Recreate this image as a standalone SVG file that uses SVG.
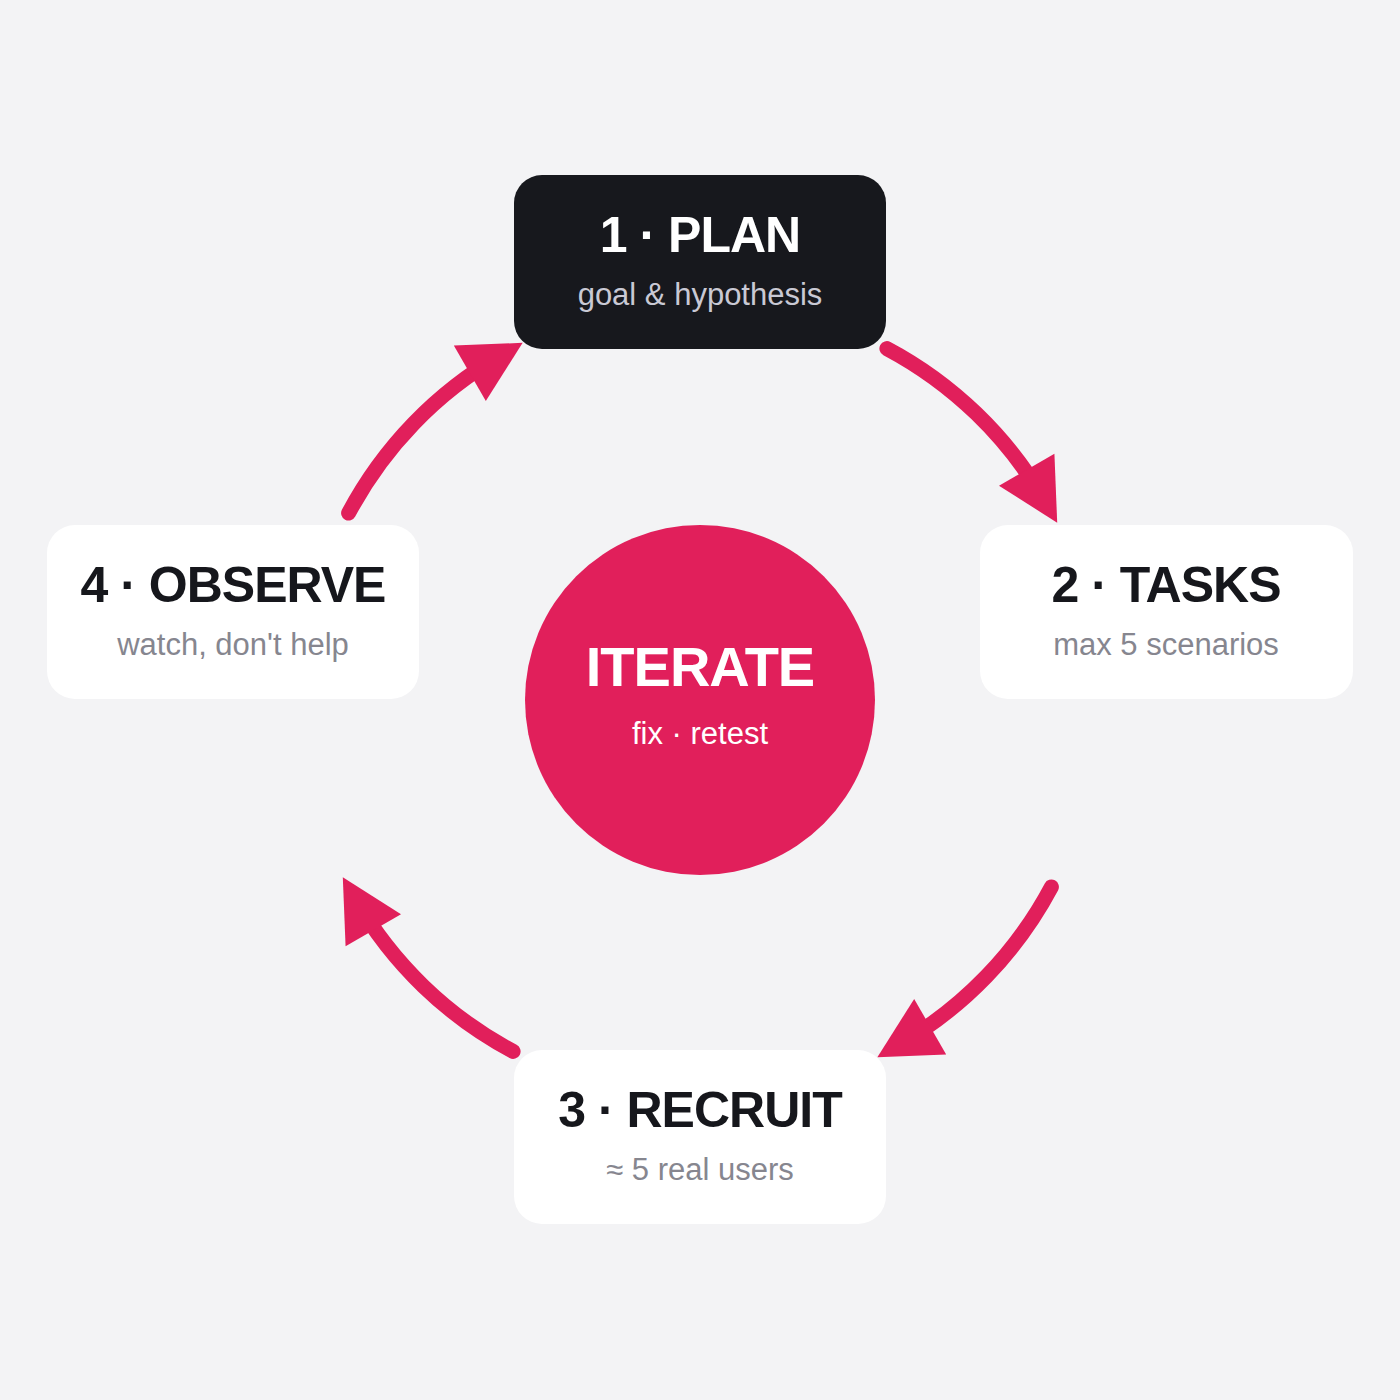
<svg xmlns="http://www.w3.org/2000/svg" width="1400" height="1400" viewBox="0 0 1400 1400">
  <style>
    .bg { fill: #F3F3F5; }
    .card { fill: #FFFFFF; }
    .card-dark { fill: #17181D; }
    .title { font-family: "Liberation Sans", Arial, sans-serif; font-weight: bold; font-size: 50px; text-anchor: middle; fill: #16171C; letter-spacing: -1px; }
    .title-light { fill: #FFFFFF; }
    .sub { font-family: "Liberation Sans", Arial, sans-serif; font-size: 31px; text-anchor: middle; fill: #86868F; }
    .sub-light { fill: #C9C9D4; }
    .conn { fill: none; stroke: #E11F5B; stroke-width: 15; stroke-linecap: round; }
    .hub { fill: #E11F5B; }
  </style>
  <defs>
    <marker id="arrow" markerUnits="userSpaceOnUse" markerWidth="61" markerHeight="64" refX="36" refY="32" orient="auto" overflow="visible">
      <path d="M0,0 L61,32 L0,64 Z" fill="#E11F5B"/>
    </marker>
  </defs>
  <rect class="bg" x="0" y="0" width="1400" height="1400"/>

  <g id="connectors">
    <path class="conn" d="M886.9,348.6 A398,398 0 0 1 1044.7,501" marker-end="url(#arrow)"/>
    <path class="conn" d="M1051.4,886.9 A398,398 0 0 1 899,1044.7" marker-end="url(#arrow)"/>
    <path class="conn" d="M513.1,1051.4 A398,398 0 0 1 355.3,899" marker-end="url(#arrow)"/>
    <path class="conn" d="M348.6,513.1 A398,398 0 0 1 501,355.3" marker-end="url(#arrow)"/>
  </g>

  <g id="iterate">
    <circle class="hub" cx="700" cy="700" r="175"/>
    <text class="title title-light" x="700" y="686" style="font-size:56px">ITERATE</text>
    <text class="sub" x="700" y="744" style="fill:#FFFFFF">fix · retest</text>
  </g>

  <g id="plan">
    <rect class="card-dark" x="514" y="175" width="372" height="174" rx="28"/>
    <text class="title title-light" x="700" y="252">1 · PLAN</text>
    <text class="sub sub-light" x="700" y="305">goal &amp; hypothesis</text>
  </g>

  <g id="tasks">
    <rect class="card" x="980" y="525" width="373" height="174" rx="28"/>
    <text class="title" x="1166" y="602">2 · TASKS</text>
    <text class="sub" x="1166" y="655">max 5 scenarios</text>
  </g>

  <g id="recruit">
    <rect class="card" x="514" y="1050" width="372" height="174" rx="28"/>
    <text class="title" x="700" y="1127">3 · RECRUIT</text>
    <text class="sub" x="700" y="1180">≈ 5 real users</text>
  </g>

  <g id="observe">
    <rect class="card" x="47" y="525" width="372" height="174" rx="28"/>
    <text class="title" x="233" y="602">4 · OBSERVE</text>
    <text class="sub" x="233" y="655">watch, don't help</text>
  </g>
</svg>
